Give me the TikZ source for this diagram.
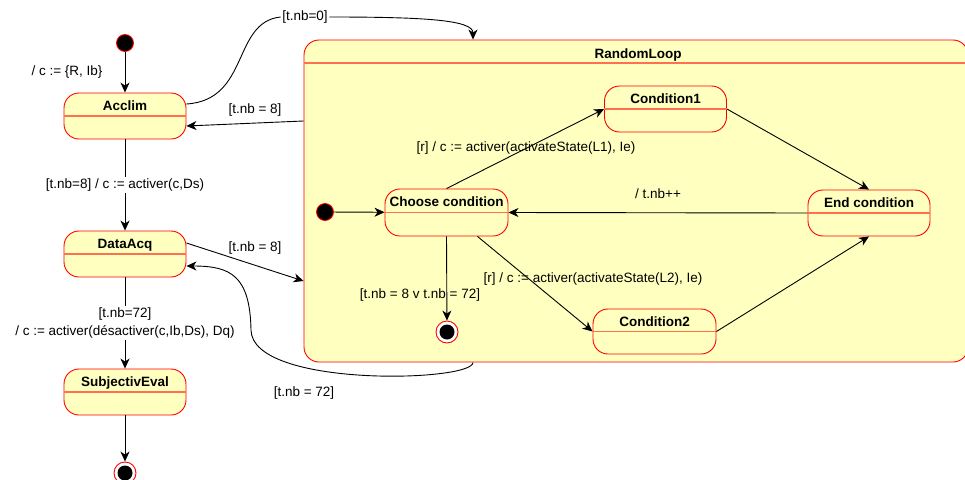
\documentclass[tikz,border=0pt]{standalone}
\usepackage{fontspec}
\setmainfont{Liberation Sans}
\usetikzlibrary{arrows.meta,calc}
\definecolor{stfill}{HTML}{FFFFC0}
\definecolor{stline}{HTML}{FF0000}
\definecolor{divcol}{HTML}{FF7050}
\begin{document}
\begin{tikzpicture}[x=1pt,y=-1pt,
  font=\fontsize{13.5}{16}\selectfont,
  statebox/.style={draw=stline, fill=stfill, rounded corners=15pt, minimum width=122pt, minimum height=46pt, inner sep=0pt, line width=0.9pt},
  divider/.style={draw=divcol, line width=1.3pt},
  titletext/.style={font=\fontsize{13.5}{16}\selectfont\bfseries, inner sep=0pt, text height=9.7pt, text depth=0pt, yshift=-1.5pt},
  lbl/.style={inner sep=1pt},
  wlbl/.style={fill=white, inner sep=1.5pt},
  conn/.style={draw=black, line width=0.9pt},
  edge/.style={conn, -{Stealth[length=10pt,width=9pt,inset=3pt]}},
  initdot/.style={circle, fill=black, draw=stline, minimum size=17pt, inner sep=0pt, line width=0.8pt},
  finalring/.style={circle, fill=white, draw=stline, minimum size=22pt, inner sep=0pt, line width=0.9pt},
  finaldot/.style={circle, fill=black, minimum size=15pt, inner sep=0pt}
]
\useasboundingbox (0,0) rectangle (965,479);
\clip (0,0) rectangle (965,479);

% ---------- composite state ----------
\node[draw=stline, fill=stfill, rounded corners=15pt, minimum width=664pt, minimum height=322pt, inner sep=0pt, line width=0.9pt] (rl) at (636,201) {};
\draw[divider] (rl.west |- 0,63) -- (rl.east |- 0,63);
\node[titletext] (rlT) at (638,52) {RandomLoop};

% ---------- left column ----------
\node[initdot] (init1) at (125,43) {};
\node[statebox] (acclim) at (125,116) {};
\node[statebox] (dataacq) at (125,254) {};
\node[statebox] (subj) at (125,392) {};
\node[finalring] (final1) at (125,473) {};
\node[finaldot] (final1d) at (final1) {};
\foreach \n/\t in {acclim/Acclim, dataacq/DataAcq, subj/SubjectivEval}{
  \draw[divider] (\n.west) -- (\n.east);
  \node[titletext] (\n T) at ($(\n.north)!0.5!(\n.center)$) {\t};
}

% ---------- inner states ----------
\node[initdot] (init2) at (325,212) {};
\node[statebox, minimum width=123pt, minimum height=47pt] (choose) at (446.5,212.5) {};
\node[statebox] (cond1) at (665.5,109) {};
\node[statebox] (endc) at (869,213) {};
\node[statebox, minimum width=123pt, minimum height=45pt] (cond2) at (654.5,331.5) {};
\node[finalring] (final2) at (447,332) {};
\node[finaldot] (final2d) at (final2) {};
\foreach \n/\t in {choose/Choose condition, cond1/Condition1, endc/End condition, cond2/Condition2}{
  \draw[divider] (\n.west) -- (\n.east);
  \node[titletext] (\n T) at ($(\n.north)!0.5!(\n.center)$) {\t};
}

% ---------- left column transitions ----------
\draw[edge] (init1) -- (acclim);
\node[lbl] (l1) at (67,72) {/ c := \{R, Ib\}};
\draw[edge] (acclim) -- node[wlbl] (l2) {[t.nb=8] / c := activer(c,Ds)} (dataacq);
\draw[edge] (dataacq) -- node[wlbl, align=center, font=\fontsize{13.5}{18}\selectfont] (l3) {[t.nb=72]\\/ c := activer(désactiver(c,Ib,Ds), Dq)} (subj);
\draw[edge] (subj) -- (final1);

% ---------- transitions with the composite ----------
\node[wlbl] (l0) at (305,17) {[t.nb=0]};
\draw[conn] ([yshift=12pt]acclim.east) .. controls (250,100) and (232,22) .. (l0.west);
\draw[edge] (l0.east) .. controls (425,17) and (473,20) .. (473,0 |- rl.north);

\draw[edge] (rl.west |- 0,121) -- ([yshift=-10pt]acclim.east);
\node[lbl] (l4) at (255,110) {[t.nb = 8]};

\draw[edge] ([yshift=11pt]dataacq.east) -- (rl.west |- 0,281);
\node[lbl] (l5) at (255,248) {[t.nb = 8]};

\draw[edge] (473,0 |- rl.south) .. controls (473,382) and (252,388) .. (251,330)
  .. controls (250,275) and (230,266) .. ([yshift=-12pt]dataacq.east);
\node[lbl] (l6) at (304,393) {[t.nb = 72]};

% ---------- inner transitions ----------
\draw[edge] (init2) -- (choose);
\draw[edge] (choose.north) -- (cond1.west);
\node[lbl] (l7) at (526,148) {[r] / c := activer(activateState(L1), Ie)};
\draw[edge] (cond1.east) -- (endc.north);
\draw[edge] (endc.west) -- (choose.east);
\node[lbl] (l8) at (658,194) {/ t.nb++};
\draw[edge] ([xshift=31pt]choose.south) -- (cond2.west);
\node[lbl] (l9) at (593,279) {[r] / c := activer(activateState(L2), Ie)};
\draw[edge] (cond2.east) -- (endc.south);
\draw[edge] (choose.south) -- (final2);
\node[lbl] (l10) at (420,295) {[t.nb = 8 v t.nb = 72]};
\end{tikzpicture}
\end{document}
